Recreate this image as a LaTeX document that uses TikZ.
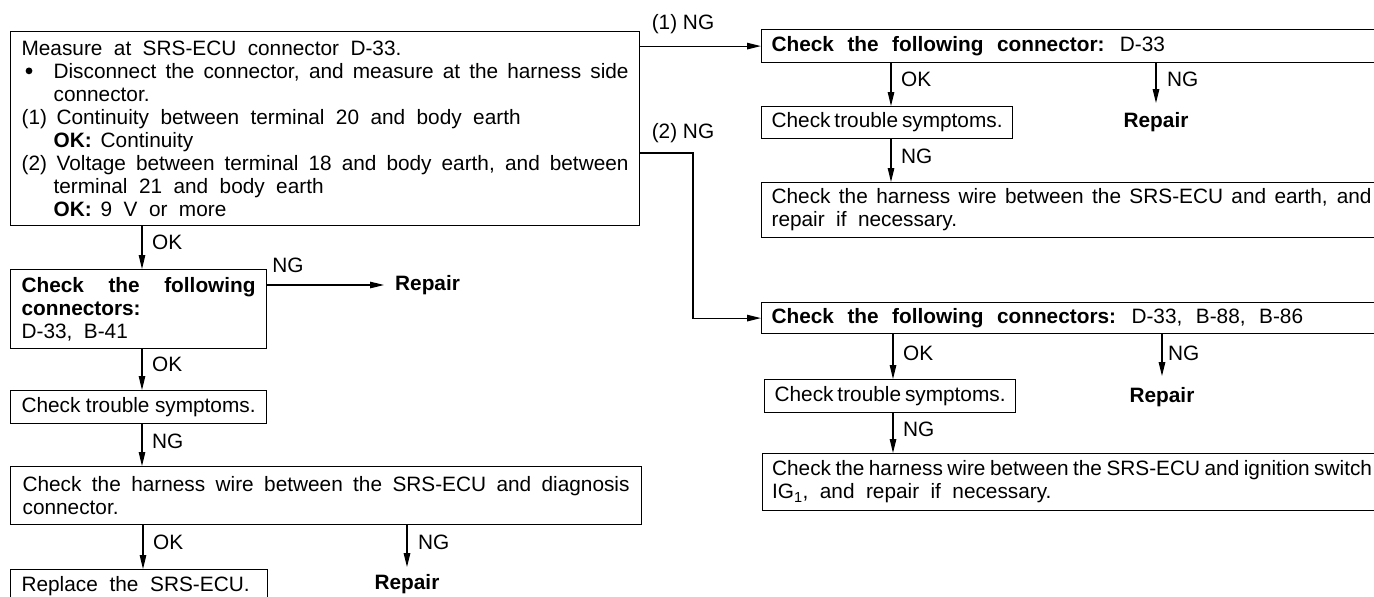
\documentclass[tikz,border=0pt]{standalone}
\usepackage{fontspec}
\setmainfont{Liberation Sans}
\usetikzlibrary{arrows.meta}
\newcommand\widesp{\spaceskip=0.55em plus 0.4em minus 0.2em\relax}
\newcommand\bigbul{\raisebox{4pt}{\tikz\fill (0,0) circle (3.4pt);}}
\begin{document}
\begin{tikzpicture}[x=1pt,y=-1pt,
  font=\fontsize{20.8}{23}\selectfont,
  box/.style={draw, line width=1.2pt, inner sep=0pt, anchor=north west},
  arr/.style={line width=1.2pt, -{Triangle[length=14pt,width=6.5pt]}},
  lab/.style={anchor=west, inner sep=0pt},
  rep/.style={font=\fontsize{20.8}{23}\selectfont\bfseries, inner sep=0pt}]
\useasboundingbox (0,0) rectangle (1374,597);

% ---------- left column ----------
\node[box, minimum width=629pt, minimum height=194pt] (main) at (10,31) {\parbox{607pt}{\widesp
Measure at SRS-ECU connector D-33.\par
\hangindent=32pt\hangafter=1 \makebox[32pt][l]{\hspace{4pt}\bigbul}Disconnect the connector, and measure at the harness side\linebreak connector.\par
\makebox[35pt][l]{(1)}Continuity between terminal 20 and body earth\par
\hspace*{32pt}\textbf{OK:}\hspace{9pt}Continuity\par
\hangindent=32pt\hangafter=1 \makebox[35pt][l]{(2)}Voltage between terminal 18 and body earth, and between\linebreak terminal 21 and body earth\par
\hspace*{32pt}\textbf{OK:}\hspace{9pt}9 V or more}};

\node[box, minimum width=256pt, minimum height=79pt] (conn) at (10,269) {\parbox{234pt}{\widesp
\textbf{Check the following\linebreak connectors:}\par
D-33, B-41}};

\node[box, minimum width=256pt, minimum height=33pt] (tr1) at (10,390) {\parbox{234pt}{Check trouble symptoms.}};

\node[box, minimum width=631pt, minimum height=58pt] (har1) at (10,466) {\parbox{607pt}{\widesp
Check the harness wire between the SRS-ECU and diagnosis\linebreak connector.}};

\node[box, minimum width=257pt, minimum height=34pt] (repl) at (10,569) {\parbox{235pt}{\makebox[228pt][s]{Replace the SRS-ECU.}}};

\node[rep, anchor=west] (rep0) at (395,285) {Repair};
\node[rep] (rep3) at (407,584) {Repair};

\draw[arr] ([xshift=132pt]main.south west) -- ([xshift=132pt]conn.north west);
\node[lab] (ok1) at (152,242) {OK};
\draw[arr] ([yshift=-16pt]conn.north east) -- ([xshift=-11pt]rep0.west);
\node (ng0) at (288,265) {NG};
\draw[arr] ([xshift=132pt]conn.south west) -- ([xshift=132pt]tr1.north west);
\node[lab] (ok2) at (152,364) {OK};
\draw[arr] ([xshift=132pt]tr1.south west) -- ([xshift=132pt]har1.north west);
\node[lab] (ng2) at (152,441) {NG};
\draw[arr] ([xshift=133pt]har1.south west) -- ([xshift=133pt]repl.north west);
\node[lab] (ok3) at (153,542) {OK};
\draw[arr] (har1.south -| rep3.north) -- ([yshift=7pt]rep3.north);
\node[lab] (ng3) at (418,542) {NG};

% ---------- right column, branch (1) ----------
\node[box, minimum width=620pt, minimum height=33pt] (boxA) at (761,29) {\parbox{600pt}{\spaceskip=0.65em plus 0.4em minus 0.2em\relax
\textbf{Check the following connector:} D-33}};
\node[box, minimum width=251pt, minimum height=32pt] (boxB) at (761,106) {\parbox{231pt}{Check trouble symptoms.}};
\node[box, minimum width=620pt, minimum height=55pt] (boxC) at (761,182) {\parbox{600pt}{Check the harness wire between the SRS-ECU and earth, and\linebreak{\widesp repair if necessary.}}};
\node[rep] (rep1) at (1156,122) {Repair};

\draw[arr] (main.east |- boxA.west) -- (boxA.west);
\node (l1) at (683,24) {(1) NG};
\draw[arr] ([xshift=130pt]boxA.south west) -- ([xshift=130pt]boxB.north west);
\node[lab] (ok4) at (901,79) {OK};
\draw[arr] (boxA.south -| rep1.north) -- ([yshift=9pt]rep1.north);
\node[lab] (ng4) at (1167,79) {NG};
\draw[arr] ([xshift=130pt]boxB.south west) -- ([xshift=130pt]boxC.north west);
\node[lab] (ng5) at (901,156) {NG};

% ---------- right column, branch (2) ----------
\node[box, minimum width=620pt, minimum height=31pt] (boxD) at (761,302) {\parbox{600pt}{\spaceskip=0.65em plus 0.4em minus 0.2em\relax
\textbf{Check the following connectors:} D-33, B-88, B-86}};
\node[box, minimum width=251pt, minimum height=33pt] (boxE) at (764,379) {\parbox{231pt}{Check trouble symptoms.}};
\node[box, minimum width=619pt, minimum height=57pt] (boxF) at (762,453) {\parbox{600pt}{Check the harness wire between the SRS-ECU and ignition switch\linebreak{\widesp IG\textsubscript{1}, and repair if necessary.}}};
\node[rep] (rep2) at (1162,397) {Repair};

\coordinate (t2) at (693,153);
\draw[arr] (main.east |- t2) -- (t2) |- (boxD.west);
\node (l2) at (683,133) {(2) NG};
\draw[arr] ([xshift=132pt]boxD.south west) -- ([xshift=129pt]boxE.north west);
\node[lab] (ok6) at (903,353) {OK};
\draw[arr] (boxD.south -| rep2.north) -- ([yshift=11pt]rep2.north);
\node[lab] (ng6) at (1168,353) {NG};
\draw[arr] ([xshift=129pt]boxE.south west) -- ([xshift=131pt]boxF.north west);
\node[lab] (ng7) at (903,429) {NG};
\end{tikzpicture}
\end{document}
